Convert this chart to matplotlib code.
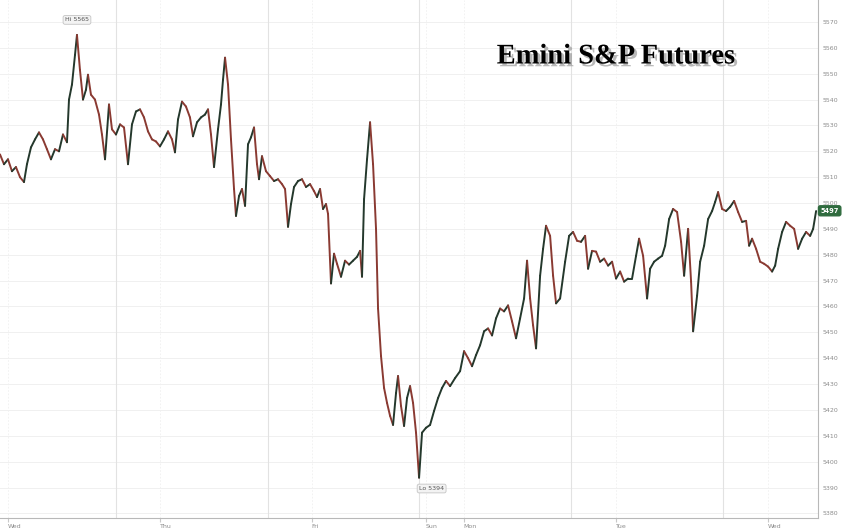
import matplotlib
matplotlib.use("Agg")
import matplotlib.pyplot as plt
import matplotlib.patheffects as pe
from matplotlib.collections import LineCollection
import numpy as np

# trading-clock hours since Wed 00:00 (weekend gap removed)
hours = [
    -1.26, -0.63, 0.00, 0.63, 1.26, 1.90, 2.53, 3.00, 3.63, 4.27, 4.90, 5.53, 6.16, 6.79,
    7.43, 8.06, 8.69, 9.32, 9.64, 10.11, 10.59, 10.90, 11.37, 11.85, 12.32, 12.64, 13.11,
    13.74, 14.38, 14.85, 15.33, 15.96, 16.43, 17.06, 17.70, 18.33, 18.96, 19.59, 20.22,
    20.86, 21.49, 22.12, 22.75, 23.38, 24.01, 24.65, 25.28, 25.91, 26.38, 26.86, 27.49,
    28.12, 28.75, 29.23, 29.86, 30.49, 31.12, 31.60, 32.07, 32.55, 33.18, 33.65, 33.97,
    34.29, 34.76, 35.23, 35.71, 36.02, 36.50, 36.97, 37.45, 37.92, 38.39, 38.87, 39.34,
    39.66, 40.13, 40.76, 41.40, 42.03, 42.66, 43.29, 43.77, 44.24, 44.71, 45.19, 45.82,
    46.45, 47.08, 47.72, 48.35, 48.82, 49.30, 49.77, 50.24, 50.56, 51.03, 51.51, 51.98,
    52.61, 53.25, 53.88, 54.51, 55.14, 55.62, 55.93, 56.25, 56.72, 57.20, 57.67, 58.14,
    58.46, 58.93, 59.41, 59.88, 60.36, 60.83, 61.30, 61.62, 62.09, 62.57, 63.04, 63.52,
    63.99, 64.46, 64.94, 65.41, 66.04, 66.68, 67.31, 67.94, 68.57, 69.20, 69.84, 70.63,
    71.42, 72.05, 72.68, 73.31, 73.94, 74.58, 75.21, 75.84, 76.47, 77.10, 77.74, 78.37,
    79.00, 79.63, 80.26, 80.90, 81.53, 82.00, 82.48, 82.95, 83.42, 84.06, 84.53, 85.00,
    85.64, 86.11, 86.58, 87.22, 88.01, 88.64, 89.27, 89.90, 90.53, 91.17, 91.64, 92.27,
    92.90, 93.54, 94.17, 94.80, 95.43, 96.06, 96.70, 97.33, 97.96, 98.59, 99.22, 99.70,
    100.33, 100.96, 101.44, 102.07, 102.70, 103.33, 103.81, 104.44, 105.07, 105.70,
    106.33, 106.81, 107.44, 107.91, 108.23, 108.86, 109.34, 109.97, 110.60, 111.23,
    111.71, 112.18, 112.81, 113.44, 114.08, 114.71, 115.34, 115.97, 116.60, 117.08,
    117.55, 118.18, 118.82, 119.45, 120.08, 120.71, 121.19, 121.66, 122.29, 122.92,
    123.56, 124.19, 124.82, 125.45, 126.08, 126.72, 127.19, 127.66,
]

prices = [
    5518.8, 5515.0, 5516.9, 5512.3, 5513.9, 5510.0, 5508.1, 5515.0, 5521.5, 5524.6, 5527.3,
    5524.6, 5520.8, 5516.9, 5520.8, 5520.0, 5526.5, 5523.5, 5540.0, 5545.8, 5557.3, 5565.0,
    5551.5, 5540.0, 5543.8, 5549.6, 5541.9, 5540.0, 5534.2, 5526.5, 5516.9, 5538.1, 5528.5,
    5526.5, 5530.4, 5529.2, 5515.0, 5530.4, 5535.4, 5536.2, 5533.1, 5527.7, 5524.6, 5523.8,
    5521.9, 5524.6, 5527.7, 5524.6, 5519.6, 5532.3, 5539.2, 5537.3, 5533.1, 5525.8, 5531.2,
    5533.1, 5534.2, 5536.2, 5526.5, 5513.9, 5528.5, 5538.1, 5547.7, 5556.2, 5545.8, 5524.6,
    5505.4, 5495.0, 5502.7, 5505.4, 5498.9, 5522.7, 5525.4, 5529.2, 5515.0, 5509.2, 5518.1,
    5512.3, 5510.4, 5508.5, 5509.2, 5507.3, 5505.4, 5490.8, 5499.6, 5506.2, 5508.5, 5509.2,
    5506.2, 5507.3, 5504.6, 5502.3, 5505.4, 5497.7, 5499.6, 5495.8, 5468.9, 5480.4, 5476.5,
    5471.5, 5477.7, 5476.2, 5477.7, 5479.2, 5481.5, 5471.5, 5501.5, 5516.9, 5531.2, 5515.0,
    5490.0, 5459.2, 5440.8, 5428.5, 5422.7, 5417.7, 5414.2, 5426.5, 5433.1, 5421.5, 5413.8,
    5424.6, 5429.2, 5422.7, 5411.2, 5393.8, 5411.2, 5413.1, 5414.2, 5419.6, 5424.6, 5428.5,
    5431.2, 5429.2, 5432.3, 5435.0, 5442.7, 5440.0, 5436.9, 5441.2, 5445.0, 5450.4, 5451.5,
    5448.8, 5455.4, 5459.2, 5458.1, 5460.4, 5454.2, 5447.7, 5455.4, 5463.1, 5477.7, 5463.1,
    5452.7, 5443.8, 5471.9, 5482.3, 5491.2, 5487.3, 5471.9, 5461.2, 5463.1, 5477.3, 5487.3,
    5488.8, 5485.4, 5485.0, 5487.3, 5474.6, 5481.5, 5481.2, 5477.3, 5478.5, 5475.8, 5477.3,
    5470.8, 5473.5, 5469.6, 5470.8, 5470.8, 5479.6, 5486.2, 5479.6, 5463.1, 5474.6, 5477.3,
    5478.5, 5479.6, 5483.5, 5493.8, 5497.7, 5496.5, 5485.0, 5471.9, 5490.0, 5469.6, 5450.4,
    5464.2, 5477.3, 5483.5, 5493.8, 5496.9, 5500.4, 5504.2, 5497.7, 5496.9, 5498.5, 5500.8,
    5496.5, 5492.7, 5493.1, 5483.5, 5486.2, 5482.3, 5477.3, 5476.5, 5475.4, 5473.5, 5475.8,
    5482.3, 5488.8, 5492.7, 5491.2, 5490.0, 5482.3, 5486.2, 5488.8, 5487.3, 5490.0, 5496.9,
]

day_labels = ["Wed", "Thu", "Fri", "Sun", "Mon", "Tue", "Wed"]
day_hours = [0, 24, 48, 66, 72, 96, 120]
session_breaks = [17, 41, 65, 89, 113]
y_ticks = list(range(5380, 5571, 10))

hi_val, lo_val, last_val = 5565, 5394, 5497

UP = "#24382c"
DOWN = "#8a3a32"

fig = plt.figure(figsize=(8.48, 5.3), dpi=100)
ax = fig.add_axes([0.0, 0.0226, 818 / 848, 0.9774])
ax.set_facecolor("white")

ax.set_xlim(-1.26, 127.96)
ax.set_ylim(5378.2, 5578.5)

# grid
for y in y_ticks:
    ax.axhline(y, color="#f0f0f0", lw=0.7, zorder=0)
for d in day_hours:
    ax.axvline(d, color="#f0f0f0", lw=0.6, ls=(0, (2, 2)), zorder=0)
for s in session_breaks:
    ax.axvline(s, color="#e2e2e2", lw=0.8, zorder=0)

# price path, coloured by direction of each step
x = np.array(hours)
p = np.array(prices)
segs = np.stack([np.column_stack([x[:-1], p[:-1]]), np.column_stack([x[1:], p[1:]])], axis=1)
cols = [UP if b >= a else DOWN for a, b in zip(p[:-1], p[1:])]
ax.add_collection(LineCollection(segs, colors=cols, linewidths=1.4, capstyle="round", zorder=3))

# spines / ticks
for sp in ["top", "left"]:
    ax.spines[sp].set_visible(False)
ax.spines["right"].set_color("#b8b8b8")
ax.spines["bottom"].set_color("#b8b8b8")
ax.spines["right"].set_linewidth(0.8)
ax.spines["bottom"].set_linewidth(0.8)

ax.yaxis.tick_right()
ax.set_yticks(y_ticks)
ax.set_yticklabels([str(v) for v in y_ticks])
ax.tick_params(axis="y", length=0, pad=3, labelsize=4.5, labelcolor="#8c8c8c")

ax.set_xticks(day_hours)
ax.set_xticklabels(day_labels)
ax.tick_params(axis="x", length=3, color="#c8c8c8", pad=1, labelsize=4.5, labelcolor="#8c8c8c")
for lbl in ax.get_xticklabels():
    lbl.set_horizontalalignment("left")

# hi / lo tags
i_hi = int(np.argmax(p))
i_lo = int(np.argmin(p))
tag = dict(boxstyle="round,pad=0.3", fc="#f3f3f3", ec="#c4c4c4", lw=0.6)
ax.annotate(f"Hi {hi_val}", (x[i_hi], p[i_hi]), xytext=(0, 9), textcoords="offset points",
            ha="center", va="bottom", fontsize=4.5, color="#555555", bbox=tag, zorder=5)
ax.annotate(f"Lo {lo_val}", (x[i_lo], p[i_lo]), xytext=(0, -6), textcoords="offset points",
            ha="left", va="top", fontsize=4.5, color="#555555", bbox=tag, zorder=5)

# last price tag on the axis
ax.text(1.003, last_val, f"{last_val}", transform=ax.get_yaxis_transform(), ha="left", va="center",
        fontsize=4.8, color="white", fontweight="bold", clip_on=False, zorder=6,
        bbox=dict(boxstyle="round,pad=0.3", fc="#2f6b3e", ec="#2f6b3e"))

# title with drop shadow
ax.text(0.753, 0.89, "Emini S&P Futures", transform=ax.transAxes, ha="center", va="center",
        fontsize=20.5, fontweight="bold", family="Liberation Serif", color="black",
        path_effects=[pe.withSimplePatchShadow(offset=(2, -2), shadow_rgbFace="#a0a0a0", alpha=0.75)])

fig.savefig("out.png", dpi=100, facecolor="white")
